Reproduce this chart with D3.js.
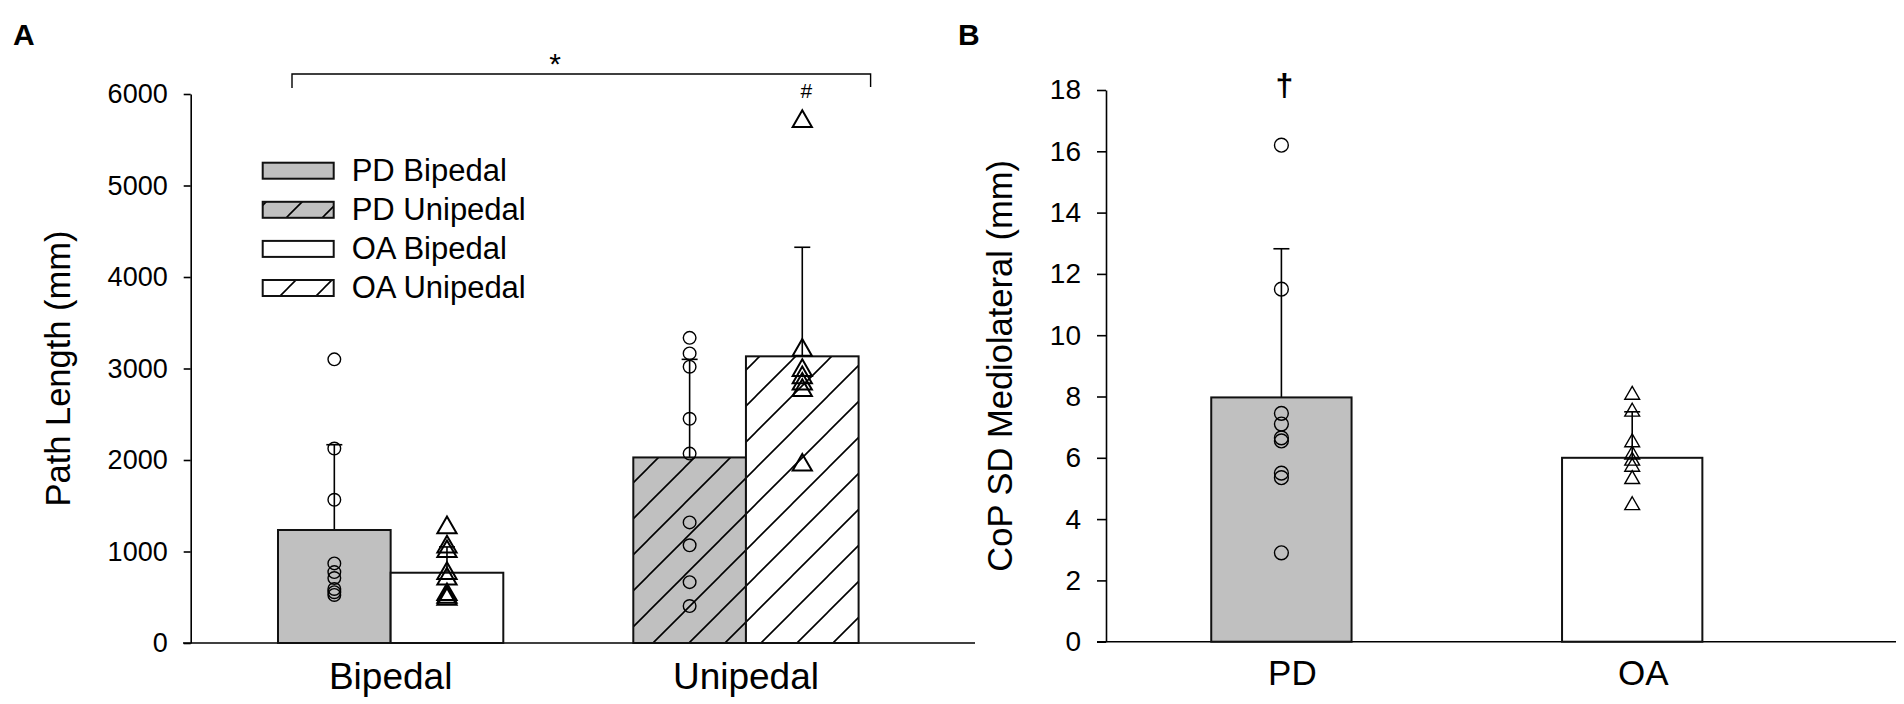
<!DOCTYPE html>
<html>
<head>
<meta charset="utf-8">
<script src="https://cdn.jsdelivr.net/npm/d3@7"></script>
<style>
  body { margin: 0; background: #fff; }
  svg text { font-family: "Liberation Sans", Arial, sans-serif; fill: #000; }
</style>
</head>
<body>
<svg id="chart" width="1904" height="704"></svg>
<script>
// ---- data, panel A (path length, mm) ----
const postures = ["Bipedal", "Unipedal"];
const groups = ["PD", "OA"];
const legendLabels = ["PD Bipedal", "PD Unipedal", "OA Bipedal", "OA Unipedal"];
const pdMeans = [1235, 2028];
const oaMeans = [768, 3133];
const pdSD = [932, 1072];
const oaSD = [282, 1192];
const pdBipedalPts = [3100, 2125, 1565, 870, 775, 710, 590, 555, 525];
const oaBipedalPts = [1260, 1050, 1000, 760, 700, 530, 500, 480];
const pdUnipedalPts = [3335, 3165, 3020, 2450, 2070, 1318, 1068, 665, 404];
const oaUnipedalPts = [5700, 3200, 2980, 2900, 2830, 2760, 1945];
const pathTicks = [0, 1000, 2000, 3000, 4000, 5000, 6000];

// ---- data, panel B (CoP SD mediolateral, mm) ----
const copGroups = ["PD", "OA"];
const copMeans = [7.97, 6.0];
const copSD = [4.85, 1.5];
const pdCopPts = [16.2, 11.5, 7.45, 7.1, 6.65, 6.55, 5.5, 5.35, 2.9];
const oaCopPts = [8.05, 7.5, 6.5, 6.1, 5.9, 5.7, 5.3, 4.45];
const copTicks = [0, 2, 4, 6, 8, 10, 12, 14, 16, 18];

const svg = d3.select("#chart");
const defs = svg.append("defs");
const fontFamily = "'Liberation Sans', Arial, sans-serif";

function hatch(id, bg) {
    const p = defs.append("pattern").attr("id", id)
        .attr("patternUnits", "userSpaceOnUse")
        .attr("width", 36).attr("height", 36);
    p.append("rect").attr("width", 36).attr("height", 36).attr("fill", bg);
    p.append("path")
        .attr("d", "M-9,9L9,-9M0,36L36,0M27,45L45,27")
        .attr("stroke", "#000").attr("stroke-width", 1.6);
}
hatch("hatchGray", "#c0c0c0");
hatch("hatchWhite", "#fff");

const fills = {
    "PD Bipedal": "#c0c0c0",
    "PD Unipedal": "url(#hatchGray)",
    "OA Bipedal": "#fff",
    "OA Unipedal": "url(#hatchWhite)"
};

const circle = (size) => d3.symbol(d3.symbolCircle, size)();
const triangle = (size) => d3.symbol(d3.symbolTriangle, size)();

// ================= Panel A =================
const gA = svg.append("g");
const yA = d3.scaleLinear().domain([0, 6000]).range([643, 94]);
const xA = d3.scaleBand().domain(postures).range([213, 923.6]);
const sub = d3.scaleBand().domain(groups).range([0, xA.bandwidth()])
    .paddingInner(0).paddingOuter(0.577);

// baseline
gA.append("line")
    .attr("x1", 183).attr("x2", 975)
    .attr("y1", yA(0)).attr("y2", yA(0))
    .attr("stroke", "#000").attr("stroke-width", 1.6);

// y axis
gA.append("g")
    .attr("transform", "translate(190.7,0)")
    .call(d3.axisLeft(yA).tickValues(pathTicks).tickFormat(d3.format("d"))
        .tickSize(7).tickSizeOuter(0).tickPadding(16))
    .call(g => g.selectAll("path, line").attr("stroke", "#000").attr("stroke-width", 1.6))
    .call(g => g.selectAll("text").attr("font-size", 27).attr("fill", "#000")
        .style("font-family", fontFamily));

// x labels
gA.append("g")
    .attr("transform", `translate(0,${yA(0)})`)
    .call(d3.axisBottom(xA).tickSize(0).tickPadding(20))
    .call(g => g.select(".domain").remove())
    .call(g => g.selectAll("text").attr("font-size", 37).attr("fill", "#000")
        .style("font-family", fontFamily));

gA.append("text")
    .attr("transform", `translate(70,${(yA(0) + yA(6000)) / 2}) rotate(-90)`)
    .attr("text-anchor", "middle").attr("font-size", 34.5)
    .text("Path Length (mm)");

const barsA = [];
postures.forEach((p, i) => {
    barsA.push({ posture: p, group: "PD", mean: pdMeans[i], sd: pdSD[i],
        pts: i === 0 ? pdBipedalPts : pdUnipedalPts, marker: "circle" });
    barsA.push({ posture: p, group: "OA", mean: oaMeans[i], sd: oaSD[i],
        pts: i === 0 ? oaBipedalPts : oaUnipedalPts, marker: "triangle" });
});
barsA.forEach(d => {
    d.key = d.group + " " + d.posture;
    d.x = xA(d.posture) + sub(d.group);
    d.cx = d.x + sub.bandwidth() / 2;
});

// error bars (behind the bars, only the upward part shows)
gA.selectAll(".errA").data(barsA).enter().append("g").attr("class", "errA")
    .each(function(d) {
        const g = d3.select(this);
        g.append("line").attr("x1", d.cx).attr("x2", d.cx)
            .attr("y1", yA(d.mean)).attr("y2", yA(d.mean + d.sd));
        g.append("line").attr("x1", d.cx - 8).attr("x2", d.cx + 8)
            .attr("y1", yA(d.mean + d.sd)).attr("y2", yA(d.mean + d.sd));
    })
    .selectAll("line").attr("stroke", "#000").attr("stroke-width", 1.6);

gA.selectAll(".barA").data(barsA).enter().append("rect")
    .attr("class", "barA")
    .attr("x", d => d.x)
    .attr("y", d => yA(d.mean))
    .attr("width", sub.bandwidth())
    .attr("height", d => yA(0) - yA(d.mean))
    .attr("fill", d => fills[d.key])
    .attr("stroke", "#111").attr("stroke-width", 2);

// individual points
barsA.forEach(d => {
    gA.selectAll(null).data(d.pts).enter().append("path")
        .attr("d", d.marker === "circle" ? circle(125) : triangle(160))
        .attr("transform", v => `translate(${d.cx},${yA(v)})`)
        .attr("fill", "none").attr("stroke", "#000")
        .attr("stroke-width", d.marker === "circle" ? 1.4 : 2);
});

// legend
const leg = gA.append("g");
legendLabels.forEach((name, i) => {
    const y = 162.7 + i * 39.1;
    leg.append("rect").attr("x", 262.7).attr("y", y).attr("width", 71).attr("height", 16)
        .attr("fill", fills[name]).attr("stroke", "#111").attr("stroke-width", 2);
    leg.append("text").attr("x", 351.7).attr("y", y + 18).attr("font-size", 31).text(name);
});

// significance bracket
const bx1 = xA("Bipedal") + sub("PD") + 14;
const bx2 = xA("Unipedal") + sub("OA") + sub.bandwidth() + 12;
gA.append("path")
    .attr("d", `M${bx1},88V74H${bx2}V87`)
    .attr("fill", "none").attr("stroke", "#000").attr("stroke-width", 1.4);
gA.append("text").attr("x", 555).attr("y", 74).attr("text-anchor", "middle")
    .attr("font-size", 30).text("*");
gA.append("text").attr("x", xA("Unipedal") + sub("OA") + sub.bandwidth() / 2 + 4).attr("y", 98)
    .attr("text-anchor", "middle").attr("font-size", 21).text("#");

svg.append("text").attr("x", 13).attr("y", 45).attr("font-size", 30)
    .attr("font-weight", "bold").text("A");

// ================= Panel B =================
const gB = svg.append("g");
const yB = d3.scaleLinear().domain([0, 18]).range([641.7, 90]);
const xB = d3.scaleBand().domain(copGroups).range([1106, 1807.6])
    .paddingInner(0.6).paddingOuter(0.3);

gB.append("line")
    .attr("x1", 1097).attr("x2", 1896)
    .attr("y1", yB(0)).attr("y2", yB(0))
    .attr("stroke", "#000").attr("stroke-width", 1.6);

gB.append("g")
    .attr("transform", "translate(1106,0)")
    .call(d3.axisLeft(yB).tickValues(copTicks).tickFormat(d3.format("d"))
        .tickSize(9).tickSizeOuter(0).tickPadding(16))
    .call(g => g.selectAll("path, line").attr("stroke", "#000").attr("stroke-width", 1.6))
    .call(g => g.selectAll("text").attr("font-size", 28).attr("fill", "#000")
        .style("font-family", fontFamily));

gB.append("g")
    .attr("transform", `translate(11,${yB(0)})`)
    .call(d3.axisBottom(xB).tickSize(0).tickPadding(18))
    .call(g => g.select(".domain").remove())
    .call(g => g.selectAll("text").attr("font-size", 35).attr("fill", "#000")
        .style("font-family", fontFamily));

gB.append("text")
    .attr("transform", `translate(1012,${(yB(0) + yB(18)) / 2}) rotate(-90)`)
    .attr("text-anchor", "middle").attr("font-size", 34.5)
    .text("CoP SD Mediolateral (mm)");

const barsB = copGroups.map((g, i) => ({
    group: g, mean: copMeans[i], sd: copSD[i],
    pts: i === 0 ? pdCopPts : oaCopPts,
    marker: i === 0 ? "circle" : "triangle",
    fill: i === 0 ? "#c0c0c0" : "#fff",
    x: xB(g), cx: xB(g) + xB.bandwidth() / 2
}));

gB.selectAll(".errB").data(barsB).enter().append("g").attr("class", "errB")
    .each(function(d) {
        const g = d3.select(this);
        g.append("line").attr("x1", d.cx).attr("x2", d.cx)
            .attr("y1", yB(d.mean)).attr("y2", yB(d.mean + d.sd));
        g.append("line").attr("x1", d.cx - 8).attr("x2", d.cx + 8)
            .attr("y1", yB(d.mean + d.sd)).attr("y2", yB(d.mean + d.sd));
    })
    .selectAll("line").attr("stroke", "#000").attr("stroke-width", 1.6);

gB.selectAll(".barB").data(barsB).enter().append("rect")
    .attr("class", "barB")
    .attr("x", d => d.x)
    .attr("y", d => yB(d.mean))
    .attr("width", xB.bandwidth())
    .attr("height", d => yB(0) - yB(d.mean))
    .attr("fill", d => d.fill)
    .attr("stroke", "#111").attr("stroke-width", 2);

barsB.forEach(d => {
    gB.selectAll(null).data(d.pts).enter().append("path")
        .attr("d", d.marker === "circle" ? circle(150) : triangle(95))
        .attr("transform", v => `translate(${d.cx},${yB(v)})`)
        .attr("fill", "none").attr("stroke", "#000").attr("stroke-width", 1.4);
});

gB.append("text").attr("x", barsB[0].cx + 3).attr("y", 96).attr("text-anchor", "middle")
    .attr("font-size", 32).attr("font-weight", "bold").text("†");

svg.append("text").attr("x", 958).attr("y", 45).attr("font-size", 30)
    .attr("font-weight", "bold").text("B");
</script>
</body>
</html>
